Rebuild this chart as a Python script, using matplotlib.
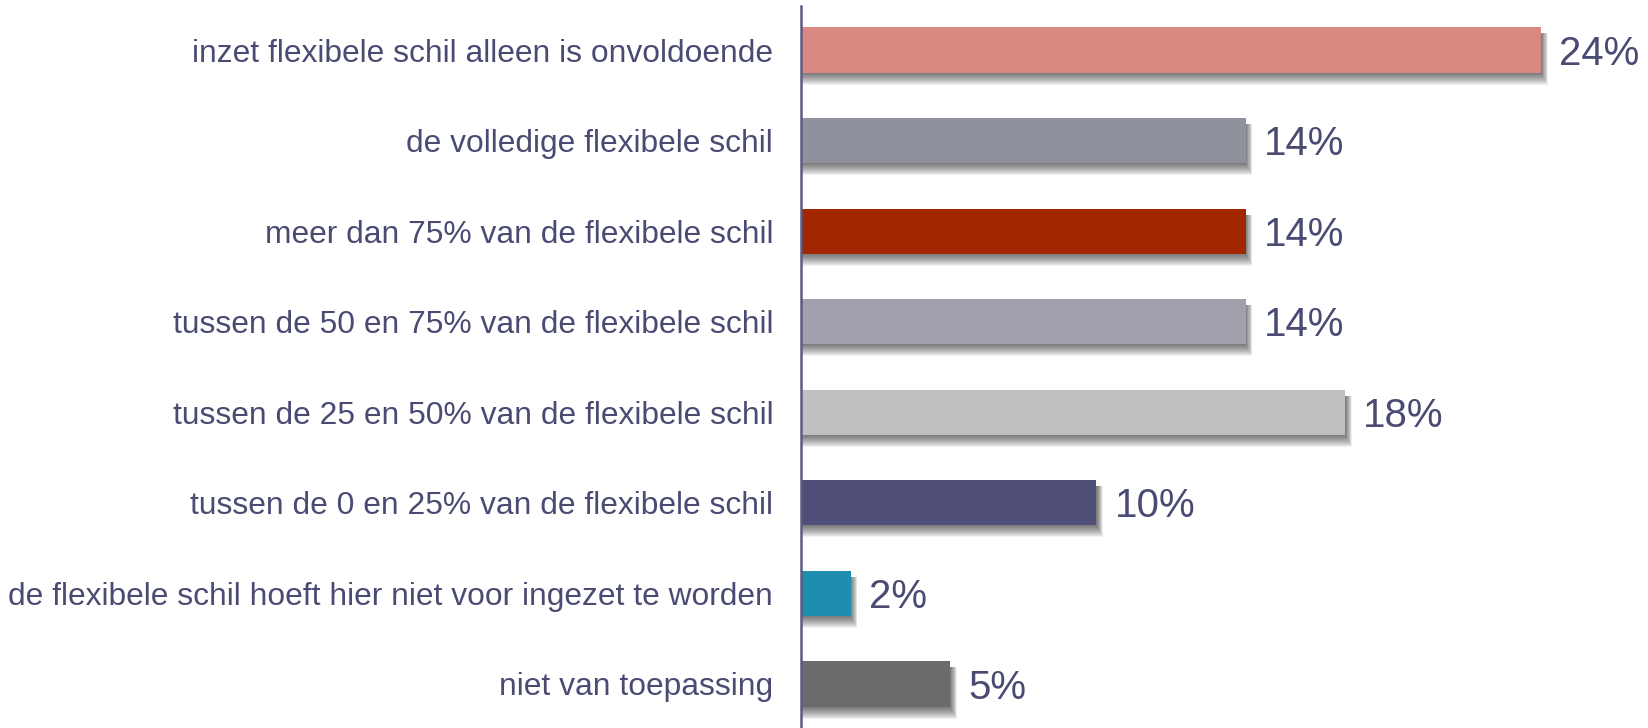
import matplotlib
matplotlib.use("Agg")
import matplotlib.pyplot as plt
from matplotlib.patches import Rectangle

categories = [
    "inzet flexibele schil alleen is onvoldoende",
    "de volledige flexibele schil",
    "meer dan 75% van de flexibele schil",
    "tussen de 50 en 75% van de flexibele schil",
    "tussen de 25 en 50% van de flexibele schil",
    "tussen de 0 en 25% van de flexibele schil",
    "de flexibele schil hoeft hier niet voor ingezet te worden",
    "niet van toepassing",
]
values = [23.8, 14.3, 14.3, 14.3, 17.5, 9.5, 1.6, 4.8]
value_labels = ["24%", "14%", "14%", "14%", "18%", "10%", "2%", "5%"]
colors = ["#D98882", "#8F919D", "#A22600", "#A1A0AC", "#C0C0C0",
          "#4F4F77", "#1E8EAE", "#6B6B6B"]

text_color = "#4A4B72"
plt.rcParams['font.family'] = ['Liberation Sans', 'DejaVu Sans']

fig = plt.figure(figsize=(16.48, 7.28), dpi=100)
ax = fig.add_axes([801 / 1648, 0, 847 / 1648, 722 / 728])

y = list(range(len(categories)))
bar_h = 0.5
px_x = 31.1   # pixels per x unit
px_y = 90.6   # pixels per y unit

# soft drop shadows (below and slightly right of each bar)
for yy, v in zip(y, values):
    for k in range(12):
        e = k * 1.0
        top = yy - bar_h / 2 + 6 / px_y
        bottom = yy + bar_h / 2 + (1 + e) / px_y
        ax.add_patch(Rectangle((0, top), v + (0.5 + e * 0.55) / px_x, bottom - top,
                               facecolor="#000000", alpha=0.055, linewidth=0, zorder=1))

ax.barh(y, values, height=bar_h, color=colors, zorder=3)

for yy, v, lab in zip(y, values, value_labels):
    ax.text(v + 0.58, yy + 0.04, lab, va="center", ha="left", fontsize=29,
            color=text_color, zorder=4)

ax.set_yticks(y)
ax.set_yticklabels(categories, fontsize=22.9, color=text_color)
ax.tick_params(axis="y", length=0, pad=20)
ax.set_xticks([])
ax.set_xlim(0, 847 / px_x)
ax.set_ylim(7.486, -0.486)

for s in ["top", "right", "bottom"]:
    ax.spines[s].set_visible(False)
ax.spines["left"].set_color("#5C5C82")
ax.spines["left"].set_linewidth(1.8)
ax.spines["left"].set_zorder(5)
ax.patch.set_alpha(0)

fig.savefig("out.png", dpi=100, facecolor="white")
